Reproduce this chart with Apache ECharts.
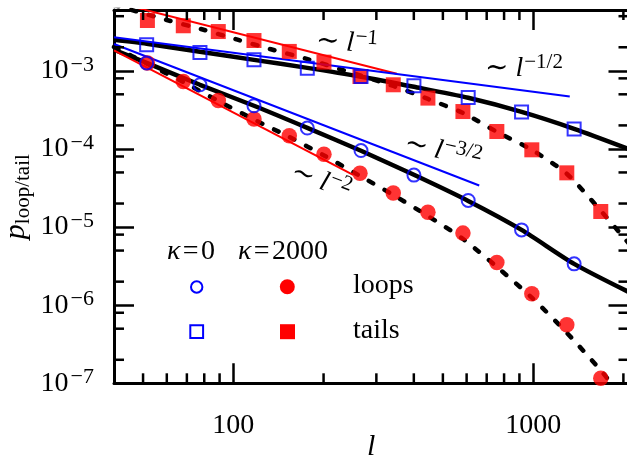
<!DOCTYPE html>
<html>
<head>
<meta charset="utf-8">
<script src="https://cdn.jsdelivr.net/npm/echarts@6/dist/echarts.min.js"></script>
<style>
  html, body { margin: 0; padding: 0; background: #fff; }
  #chart { width: 627px; height: 460px; }
</style>
</head>
<body>
<div id="chart"></div>
<script>
// Loop / tail length distributions, kappa = 0 (open symbols) and kappa = 2000 (filled)
const lK0 = [51.4, 77.4, 117.2, 176.5, 266.6, 400.3, 607.3, 915, 1370];
const pLoopsK0 = [1.26e-3, 6.62e-4, 3.57e-4, 1.85e-4, 9.54e-5, 4.62e-5, 2.19e-5, 9.20e-6, 3.38e-6];
const pTailsK0 = [2.15e-3, 1.71e-3, 1.38e-3, 1.08e-3, 8.45e-4, 6.43e-4, 4.55e-4, 2.96e-4, 1.80e-4];

const lK2000 = [51.7, 68.1, 89.1, 117.2, 153.7, 200.6, 264.5, 341.6, 445.7, 583.2, 756.8, 990, 1295, 1681];
const pLoopsK2000 = [1.26e-3, 7.30e-4, 4.17e-4, 2.41e-4, 1.47e-4, 8.53e-5, 4.88e-5, 2.72e-5, 1.55e-5, 8.36e-6, 3.51e-6, 1.40e-6, 5.60e-7, 1.16e-7];
const pTailsK2000 = [4.40e-3, 3.77e-3, 3.18e-3, 2.44e-3, 1.77e-3, 1.29e-3, 8.45e-4, 6.62e-4, 4.47e-4, 3.01e-4, 1.67e-4, 9.74e-5, 4.94e-5, 1.58e-5];

// Theory curves (solid: kappa = 0, dashed: kappa = 2000)
const lCurveK0 = [40, 51.4, 77.4, 117.2, 176.5, 266.6, 400.3, 607.3, 915, 1370, 2080];
const pCurveTailsK0 = [2.49e-3, 2.22e-3, 1.75e-3, 1.38e-3, 1.09e-3, 8.4e-4, 6.24e-4, 4.51e-4, 2.98e-4, 1.81e-4, 1.0e-4];
const pCurveLoopsK0 = [1.86e-3, 1.26e-3, 6.62e-4, 3.57e-4, 1.86e-4, 9.46e-5, 4.66e-5, 2.16e-5, 9.2e-6, 3.38e-6, 1.48e-6];

const lCurveTailsK2000 = [40, 60, 78.5, 102.6, 132.6, 175.7, 227, 341.8, 446, 583.7, 757.9, 991.6, 1297, 1685, 2105];
const pCurveTailsK2000 = [6.95e-3, 4.47e-3, 3.40e-3, 2.52e-3, 1.90e-3, 1.42e-3, 1.05e-3, 6.39e-4, 4.36e-4, 2.88e-4, 1.65e-4, 9.69e-5, 4.78e-5, 1.60e-5, 5.9e-6];
const lCurveLoopsK2000 = [40, 51.4, 68.1, 89.1, 117.2, 153.8, 200.7, 261.2, 341.8, 446, 583.7, 757.9, 991.6, 1297, 1697, 1949];
const pCurveLoopsK2000 = [2.02e-3, 1.24e-3, 7.19e-4, 4.11e-4, 2.38e-4, 1.42e-4, 8.24e-5, 4.64e-5, 2.57e-5, 1.385e-5, 7.03e-6, 3.08e-6, 1.24e-6, 4.41e-7, 1.40e-7, 7.1e-8];

// Power-law guide segments (end points)
const lGuide1 = [40, 351];      const pGuide1 = [7.6e-3, 9.15e-4];   // ~ l^-1
const lGuideHalf = [40, 1325];  const pGuideHalf = [2.68e-3, 4.69e-4]; // ~ l^-1/2
const lGuide32 = [40, 661];     const pGuide32 = [2.2e-3, 3.40e-5];  // ~ l^-3/2
const lGuide2 = [40, 251];      const pGuide2 = [1.83e-3, 4.66e-5];  // ~ l^-2

// Axes
const X_MIN = 40, X_MAX = 2080, Y_MIN = 1e-7, Y_MAX = 6e-3;
const xMajorTicks = [100, 1000];
const xMinorTicks = [50, 60, 70, 80, 90, 200, 300, 400, 500, 600, 700, 800, 900, 2000];
const yMajorTicks = [1e-7, 1e-6, 1e-5, 1e-4, 1e-3];
const yMinorTicks = [2e-7, 5e-7, 8e-7, 2e-6, 5e-6, 8e-6, 2e-5, 5e-5, 8e-5, 2e-4, 5e-4, 8e-4, 2e-3, 5e-3];

const SERIF = '"Liberation Serif", "DejaVu Serif", serif';
const BLUE = '#0000ff', RED = '#ff0000';

function pairs(ls, ps) { return ls.map((l, i) => [l, ps[i]]); }
function inList(v, list) {
  return list.some(t => Math.abs(Math.log10(v) - Math.log10(t)) < 1e-6);
}

const frameLine = { show: true, lineStyle: { color: '#000', width: 3 } };
const majorTick = { show: true, inside: true, length: 20, lineStyle: { color: '#000', width: 2.5 } };

function baseAxis(min, max, extra) {
  return Object.assign({
    type: 'log', logBase: 10, min: min, max: max,
    axisLine: frameLine, axisTick: majorTick,
    splitLine: { show: false }, minorTick: { show: false }
  }, extra);
}

const xAxes = [
  baseAxis(X_MIN, X_MAX, {
    position: 'bottom',
    name: 'l', nameLocation: 'middle', nameGap: 49, nameMoveOverlap: false,
    nameTextStyle: { fontFamily: SERIF, fontSize: 30, fontStyle: 'italic', color: '#000' },
    axisLabel: {
      margin: 28, color: '#000', fontFamily: SERIF, fontSize: 28,
      formatter: v => inList(v, xMajorTicks) ? String(Math.round(v)) : ''
    }
  }),
  baseAxis(X_MIN, X_MAX, { position: 'top', axisLabel: { show: false } })
];

const yAxes = [
  baseAxis(Y_MIN, Y_MAX, {
    position: 'left',
    name: '{p|p}{sub|loop/tail}', nameLocation: 'middle', nameRotate: 90, nameGap: 80, nameMoveOverlap: false,
    nameTextStyle: {
      rich: {
        p: { fontFamily: SERIF, fontSize: 30, fontStyle: 'italic', lineHeight: 36, verticalAlign: 'middle', color: '#000' },
        sub: { fontFamily: SERIF, fontSize: 21, lineHeight: 20, verticalAlign: 'bottom', color: '#000' }
      }
    },
    axisLabel: {
      margin: 20,
      formatter: v => inList(v, yMajorTicks) ? '{b|10}{s|\u2212' + Math.round(-Math.log10(v)) + '}' : '',
      rich: {
        b: { fontFamily: SERIF, fontSize: 28, lineHeight: 34, verticalAlign: 'middle', color: '#000' },
        s: { fontFamily: SERIF, fontSize: 22, lineHeight: 22, verticalAlign: 'top', color: '#000', padding: [0, 0, 0, 2] }
      }
    }
  }),
  baseAxis(Y_MIN, Y_MAX, { position: 'right', axisLabel: { show: false } })
];

function curve(ls, ps, dashed) {
  return {
    type: 'line', data: pairs(ls, ps), showSymbol: false, smooth: 0.25, z: 2,
    lineStyle: dashed
      ? { color: '#000', width: 4.5, type: [5, 13], cap: 'round' }
      : { color: '#000', width: 4.5 },
    silent: true
  };
}
function guide(ls, ps, color) {
  return { type: 'line', data: pairs(ls, ps), showSymbol: false, z: 3,
           lineStyle: { color: color, width: 2 }, silent: true };
}
function points(ls, ps, symbol, size, filled, color) {
  return {
    type: 'scatter', data: pairs(ls, ps), symbol: symbol, symbolSize: size,
    z: filled ? 4 : 5, silent: true,
    itemStyle: filled
      ? { color: color }
      : { color: 'rgba(255,255,255,0)', borderColor: color, borderWidth: 2 }
  };
}

// minor ticks on all four sides, placed through the axes' own log scales
function minorX(params, api) {
  const v = api.value(0);
  const b = api.coord([v, Y_MIN]), t = api.coord([v, Y_MAX]);
  return { type: 'group', children: [
    { type: 'line', shape: { x1: b[0], y1: b[1], x2: b[0], y2: b[1] - 10 }, style: { stroke: '#000', lineWidth: 2.5 } },
    { type: 'line', shape: { x1: t[0], y1: t[1], x2: t[0], y2: t[1] + 10 }, style: { stroke: '#000', lineWidth: 2.5 } }
  ] };
}
function minorY(params, api) {
  const v = api.value(1);
  const l = api.coord([X_MIN, v]), r = api.coord([X_MAX, v]);
  return { type: 'group', children: [
    { type: 'line', shape: { x1: l[0], y1: l[1], x2: l[0] + 10, y2: l[1] }, style: { stroke: '#000', lineWidth: 2.5 } },
    { type: 'line', shape: { x1: r[0], y1: r[1], x2: r[0] - 10, y2: r[1] }, style: { stroke: '#000', lineWidth: 2.5 } }
  ] };
}

const mathRich = {
  n: { fontFamily: SERIF, fontSize: 28, lineHeight: 34, verticalAlign: 'middle', fill: '#000', color: '#000' },
  i: { fontFamily: SERIF, fontSize: 28, fontStyle: 'italic', lineHeight: 34, verticalAlign: 'middle', fill: '#000', color: '#000' },
  s: { fontFamily: SERIF, fontSize: 21, lineHeight: 26, verticalAlign: 'top', fill: '#000', color: '#000', padding: [0, 0, 0, 1] }
};
function label(x, y, text, deg) {
  return {
    type: 'text', x: x, y: y, rotation: -deg * Math.PI / 180, z: 20, silent: true,
    style: { text: text, rich: mathRich, align: 'left', verticalAlign: 'middle', fill: '#000',
             font: '28px ' + SERIF }
  };
}

const graphics = [
  label(316, 41, '{n|\u223C }{i|l}{s|\u22121}', 4),
  label(485, 69, '{n|\u223C }{i|l}{s|\u22121/2}', 0),
  label(405, 143, '{n|\u223C }{i|l}{s|\u22123/2}', 13),
  label(292, 171, '{n|\u223C }{i|l}{s|\u22122}', 20),
  // legend
  label(167, 252, '{i|\u03BA}{n|\u200A=\u200A0}', 0),
  label(238, 252, '{i|\u03BA}{n|\u200A=\u200A2000}', 0),
  label(353, 286, '{n|loops}', 0),
  label(353, 331, '{n|tails}', 0),
  { type: 'circle', shape: { cx: 196.7, cy: 287, r: 5.7 }, style: { fill: 'none', stroke: BLUE, lineWidth: 2 }, z: 20 },
  { type: 'circle', shape: { cx: 287.3, cy: 286.7, r: 7.5 }, style: { fill: RED }, z: 20 },
  { type: 'rect', shape: { x: 190.3, y: 325.3, width: 12.8, height: 12.8 }, style: { fill: 'none', stroke: BLUE, lineWidth: 2 }, z: 20 },
  { type: 'rect', shape: { x: 280, y: 324.2, width: 15, height: 15 }, style: { fill: RED }, z: 20 }
];

const chart = echarts.init(document.getElementById('chart'), null, { renderer: 'canvas' });
chart.setOption({
  animation: false,
  backgroundColor: '#fff',
  textStyle: { fontFamily: SERIF },
  grid: { left: 114, top: 10, width: 514.5, height: 373.3, containLabel: false, outerBoundsMode: 'none' },
  xAxis: xAxes,
  yAxis: yAxes,
  series: [
    curve(lCurveK0, pCurveTailsK0, false),
    curve(lCurveK0, pCurveLoopsK0, false),
    curve(lCurveTailsK2000, pCurveTailsK2000, true),
    curve(lCurveLoopsK2000, pCurveLoopsK2000, true),
    guide(lGuide1, pGuide1, RED),
    guide(lGuide2, pGuide2, RED),
    guide(lGuideHalf, pGuideHalf, BLUE),
    guide(lGuide32, pGuide32, BLUE),
    points(lK2000, pTailsK2000, 'rect', 15, true, RED),
    points(lK2000, pLoopsK2000, 'circle', 15.5, true, RED),
    points(lK0, pTailsK0, 'rect', 13, false, BLUE),
    points(lK0, pLoopsK0, 'circle', 13, false, BLUE),
    { type: 'custom', data: xMinorTicks.map(v => [v, Y_MIN]), renderItem: minorX, clip: false, silent: true, z: 10 },
    { type: 'custom', data: yMinorTicks.map(v => [X_MIN, v]), renderItem: minorY, clip: false, silent: true, z: 10 }
  ],
  graphic: graphics
});
</script>
</body>
</html>
